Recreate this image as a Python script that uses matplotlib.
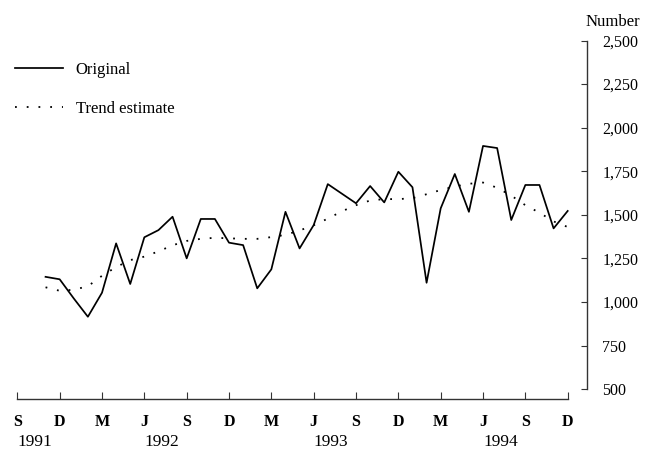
import matplotlib
matplotlib.use('Agg')
import matplotlib.pyplot as plt
import matplotlib.transforms as mtransforms
import numpy as np
import pandas as pd

plt.rcParams['font.family'] = ['Liberation Serif', 'DejaVu Serif']

# monthly series, Nov 1991 - Dec 1994
months = pd.period_range('1991-11', '1994-12', freq='M')
original = [1144, 1130, 1020, 915, 1053, 1336, 1103, 1371, 1412, 1489,
            1250, 1476, 1476, 1340, 1326, 1078, 1187, 1517, 1307, 1441,
            1676, 1621, 1566, 1665, 1571, 1747, 1658, 1110, 1537, 1734,
            1517, 1895, 1883, 1470, 1671, 1671, 1422, 1522]
trend = [1084, 1064, 1070, 1090, 1150, 1200, 1240, 1260, 1290, 1325,
         1350, 1362, 1368, 1365, 1362, 1362, 1372, 1385, 1410, 1440,
         1478, 1520, 1555, 1582, 1590, 1590, 1595, 1618, 1642, 1662,
         1678, 1685, 1655, 1610, 1555, 1512, 1462, 1430]

tick_labels = ['S', 'D', 'M', 'J', 'S', 'D', 'M', 'J', 'S', 'D', 'M', 'J', 'S', 'D']
year_labels = {'1991': 0, '1992': 9, '1993': 21, '1994': 33}
y_ticks = [500, 750, 1000, 1250, 1500, 1750, 2000, 2250, 2500]

# months since Sep 1991
x = np.array([(p.year - 1991) * 12 + p.month - 9 for p in months])

fig = plt.figure(figsize=(6.54, 4.5), dpi=100)
ax = fig.add_axes([0.0265, 0.1133, 0.8711, 0.7967])

ax.plot(x, original, color='black', lw=1.25, label='Original')
ax.plot(x, trend, color='black', lw=1.3, linestyle=(0, (1, 5.5)),
        label='Trend estimate')

ax.set_xlim(0, 40.37)
ax.set_ylim(443, 2500)

for s in ['left', 'top']:
    ax.spines[s].set_visible(False)
ax.spines['right'].set_bounds(500, 2500)
ax.spines['bottom'].set_bounds(0, 39)
for s in ['right', 'bottom']:
    ax.spines[s].set_color('#333333')
    ax.spines[s].set_linewidth(1.0)

ax.yaxis.tick_right()
ax.set_yticks(y_ticks)
ax.set_yticklabels([f'{v:,}' for v in y_ticks])
ax.tick_params(axis='y', direction='in', length=4, pad=11, labelsize=11.5,
               color='#333333')

ax.set_xticks(np.arange(0, 40, 3))
ax.set_xticklabels(tick_labels, fontweight='bold')
ax.tick_params(axis='x', direction='in', length=5, pad=11, labelsize=11.5,
               color='#333333')

# year labels, left aligned at the June / Sept ticks
trans = mtransforms.blended_transform_factory(ax.transData, fig.transFigure)
for yr, pos in year_labels.items():
    ax.text(pos, 1 - 446 / 450, yr, transform=trans, ha='left',
            va='baseline', fontsize=12.5)

fig.text(586 / 654, 1 - 22 / 450, 'Number', va='center', ha='left', fontsize=12)

ax.legend(frameon=False, loc='upper left',
          bbox_to_anchor=(15 / 654, 1 - 62 / 450),
          bbox_transform=fig.transFigure, borderpad=0, borderaxespad=0,
          handlelength=2.9, handletextpad=0.75, labelspacing=1.4,
          fontsize=12)

fig.savefig('out.png', dpi=100)
